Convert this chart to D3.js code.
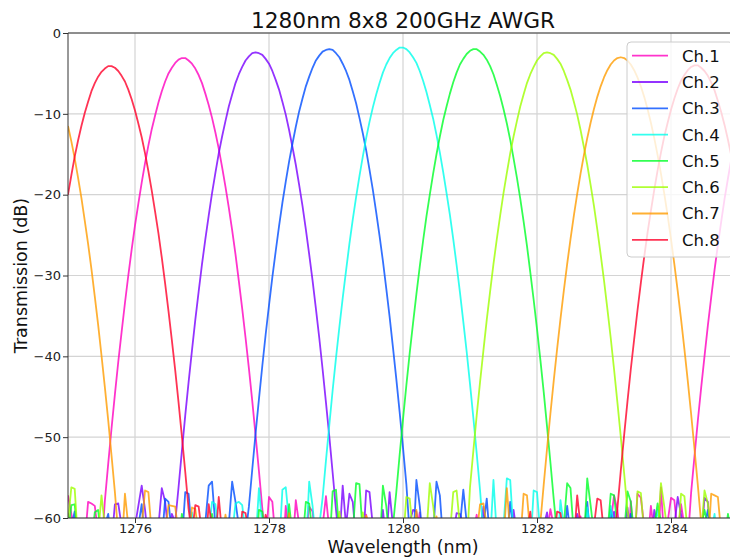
<!DOCTYPE html>
<html>
<head>
<meta charset="utf-8">
<script src="https://cdn.jsdelivr.net/npm/d3@7"></script>
<style>
  body { margin: 0; background: #fff; }
  svg { display: block; font-family: "DejaVu Sans", sans-serif; }
</style>
</head>
<body>
<svg id="chart" width="730" height="559"></svg>
<script>
// Measured transmission (dB) of the 8 output ports, sampled every 0.05 nm from 1275.00 nm.
const wavelengthStart = 1275.0;
const wavelengthStep = 0.05;

const ch1 = [
  -57.2, -59.5, -62, -65, -61, -63, -58.0, -58.2, -58.5, -62,
  -64, -57.9, -53.3, -48.9, -44.7, -40.7, -37.0, -33.4, -30.0, -26.8,
  -23.8, -21.1, -18.5, -16.1, -13.9, -11.9, -10.2, -8.6, -7.2, -6.0,
  -5.0, -4.3, -3.7, -3.3, -3.1, -3.1, -3.4, -3.8, -4.4, -5.2,
  -6.2, -7.5, -8.9, -10.5, -12.3, -14.3, -16.6, -19.0, -21.6, -24.4,
  -27.4, -30.7, -34.1, -37.7, -41.5, -45.5, -49.8, -54.2, -58.8, -63,
  -57.4, -58.0, -63, -61, -66, -58.5, -62, -64, -57.8, -60.8,
  -65, -62, -58.6, -59.2, -63, -68, -61, -57.3, -61.5, -62,
  -60.5, -66, -63, -61, -62.4, -62, -65, -61, -63, -59.6,
  -62, -64, -61.5, -61, -63, -63, -65, -60.5, -62, -64,
  -61.9, -63, -61, -66, -62, -59.3, -64, -62, -67, -63,
  -60.6, -65, -62, -61.7, -61, -64, -62.1, -66, -60.7, -62,
  -65, -61.7, -59.6, -63, -67, -62, -64, -61.4, -63, -66,
  -61, -64, -62.0, -65, -60.4, -63, -61, -66, -61.9, -64,
  -63, -60.8, -65, -62, -58.9, -61, -64, -61.5, -67, -62,
  -65, -61, -63, -59.8, -62, -61.1, -64, -61, -63, -65,
  -62, -64, -60.6, -57.2, -59.0, -63, -61, -66, -57.9, -64,
  -57.0, -57.5, -61, -63, -58.5, -62, -65, -56.2, -63, -60.5,
  -57.5, -57.8, -62, -58.3, -61, -63, -56.9, -52.4, -48.0, -43.9,
  -40.0, -36.2, -32.7, -29.3, -26.2, -23.3, -20.5, -18.0, -15.6, -13.5,
  -11.6
];

const ch2 = [
  -59.4, -62, -65, -61, -63, -66, -62, -60.5, -64, -63,
  -61, -65, -62, -63, -58.3, -58.2, -61, -64, -62, -66,
  -61, -58.5, -56.0, -59.0, -63, -62, -65, -61, -56.3, -58.0,
  -62, -59.5, -60.5, -56.2, -51.7, -47.3, -43.2, -39.3, -35.5, -32.0,
  -28.6, -25.5, -22.6, -19.8, -17.3, -14.9, -12.8, -10.9, -9.1, -7.6,
  -6.2, -5.1, -4.2, -3.4, -2.9, -2.5, -2.4, -2.5, -2.7, -3.2,
  -3.8, -4.7, -5.8, -7.0, -8.5, -10.1, -12.0, -14.1, -16.3, -18.8,
  -21.4, -24.3, -27.4, -30.6, -34.1, -37.7, -41.6, -45.7, -49.9, -54.4,
  -59.0, -63, -56.0, -61, -57.0, -58.0, -63, -61, -64, -56.6,
  -56.8, -61, -65, -62, -59.0, -63, -56.8, -61, -64, -66,
  -62, -63, -60.5, -59.0, -59.2, -62, -65, -61, -63, -66,
  -62, -64, -61, -63, -67, -62, -59.4, -59.5, -60.8, -64,
  -63, -61, -65, -62, -58.6, -64, -61, -66, -63, -62,
  -65, -61, -63, -59.0, -62, -66, -64, -61, -63, -65,
  -62, -64, -61, -59.3, -63, -66, -62, -64, -61, -63,
  -65, -62, -59.5, -61, -64, -63, -66, -62, -64, -61,
  -63, -65, -62, -59.2, -64, -61, -63, -58.7, -62, -65,
  -61, -63, -66, -62, -64, -59.0, -61, -63, -65, -62,
  -64, -61, -57.4, -59.6, -63, -62, -65, -61, -64, -63,
  -57.5, -58.0, -64, -66, -61, -63, -65, -62, -62, -58.5,
  -57.0
];

const ch3 = [
  -63, -61, -59.2, -64, -62, -66, -61, -63, -65, -62,
  -64, -61, -59.5, -63, -66, -62, -64, -61, -63, -65,
  -62, -61, -58.3, -63, -65, -62, -64, -61, -63, -57.6,
  -58.0, -62, -64, -61, -63, -56.8, -57.0, -62, -65, -61,
  -63, -60.5, -56.0, -55.5, -61, -64, -62, -63, -60.8, -55.5,
  -58.0, -61, -63, -62, -58.6, -54.0, -49.5, -45.3, -41.2, -37.3,
  -33.7, -30.2, -27.0, -23.9, -21.0, -18.4, -15.9, -13.7, -11.6, -9.7,
  -8.1, -6.6, -5.4, -4.3, -3.4, -2.8, -2.3, -2.1, -2.0, -2.1,
  -2.5, -3.0, -3.8, -4.7, -5.8, -7.2, -8.7, -10.5, -12.4, -14.5,
  -16.9, -19.4, -22.2, -25.1, -28.2, -31.6, -35.1, -38.9, -42.8, -46.9,
  -51.3, -55.8, -62, -64, -55.3, -58.5, -63, -61, -64, -62,
  -55.5, -57.2, -63, -61, -65, -62, -64, -61, -56.5, -60.5,
  -63, -64, -62, -65, -61, -57.6, -63, -66, -62, -64,
  -61, -63, -58.0, -62, -65, -61, -64, -62, -63, -66,
  -62, -64, -61, -63, -65, -62, -64, -61, -63, -58.5,
  -62, -64, -61, -63, -62, -58.0, -63, -61, -64, -62,
  -63, -65, -59.0, -61, -64, -62, -66, -63, -59.5, -62,
  -64, -61, -63, -65, -62, -64, -61, -63, -66, -62,
  -64, -61, -63, -62, -65, -61, -63, -64, -62, -66,
  -61, -59.0, -63, -62, -64, -61, -65, -63, -62, -64,
  -61
];

const ch4 = [
  -59.8, -63, -61, -64, -62, -60.5, -65, -62, -63, -61,
  -64, -62, -66, -61, -63, -62, -64, -61, -63, -65,
  -62, -64, -61, -63, -62, -65, -61, -63, -64, -62,
  -61, -63, -65, -62, -64, -61, -63, -59.3, -62, -64,
  -61, -63, -62, -58.0, -58.3, -62, -64, -61, -63, -62,
  -58.2, -58.0, -58.4, -62, -64, -61, -63, -56.3, -61, -64,
  -62, -63, -61, -64, -56.5, -56.2, -60.5, -63, -64, -61,
  -62, -64, -55.5, -58.5, -63, -61, -57.5, -52.9, -48.5, -44.2,
  -40.2, -36.4, -32.8, -29.4, -26.1, -23.1, -20.3, -17.7, -15.3, -13.0,
  -11.0, -9.2, -7.6, -6.2, -4.9, -3.9, -3.1, -2.5, -2.1, -1.8,
  -1.8, -2.0, -2.4, -3.0, -3.7, -4.7, -5.9, -7.3, -8.9, -10.6,
  -12.6, -14.8, -17.2, -19.8, -22.5, -25.5, -28.7, -32.1, -35.7, -39.4,
  -43.4, -47.6, -52.0, -56.6, -62, -61, -63, -55.3, -62, -64,
  -61, -55.1, -55.3, -62, -64, -61, -63, -62, -64, -56.6,
  -56.8, -62, -64, -61, -63, -62, -65, -57.8, -61, -63,
  -64, -62, -61, -63, -65, -58.7, -62, -64, -61, -63,
  -62, -64, -58.5, -61, -63, -65, -62, -64, -61, -63,
  -65, -62, -64, -61, -63, -62, -59.0, -61, -64, -62,
  -63, -61, -65, -62, -64, -61, -63, -62, -64, -61,
  -63, -65, -62, -59.5, -64, -61, -63, -62, -64, -61,
  -63
];

const ch5 = [
  -62, -58.4, -58.3, -63, -61, -64, -62, -63, -59.3, -59.0,
  -63, -61, -64, -62, -66, -61, -63, -62, -64, -61,
  -63, -65, -62, -64, -61, -63, -62, -64, -61, -63,
  -62, -64, -61, -63, -59.5, -62, -64, -61, -63, -62,
  -64, -61, -63, -59.5, -62, -65, -61, -63, -64, -62,
  -61, -63, -62, -64, -61, -63, -65, -59.0, -59.2, -63,
  -61, -64, -62, -63, -61, -64, -58.3, -62, -64, -61,
  -63, -58.0, -58.2, -62, -64, -61, -63, -62, -64, -56.7,
  -56.5, -62, -64, -61, -63, -62, -55.7, -55.8, -62, -64,
  -61, -63, -62, -64, -56.0, -58.5, -63, -61, -56.8, -52.2,
  -47.8, -43.6, -39.6, -35.9, -32.3, -28.9, -25.7, -22.7, -20.0, -17.4,
  -15.0, -12.8, -10.8, -9.1, -7.5, -6.1, -4.9, -3.9, -3.2, -2.6,
  -2.2, -2.0, -2.0, -2.3, -2.7, -3.3, -4.1, -5.1, -6.4, -7.8,
  -9.4, -11.2, -13.2, -15.5, -17.9, -20.5, -23.3, -26.3, -29.6, -33.0,
  -36.6, -40.4, -44.4, -48.7, -53.1, -57.7, -62, -64, -61, -55.7,
  -56.3, -62, -64, -61, -63, -55.1, -58.4, -62, -64, -61,
  -63, -62, -57.0, -57.2, -61, -64, -62, -56.7, -58.0, -62,
  -64, -61, -63, -62, -65, -61, -58.2, -60.5, -64, -62,
  -61, -63, -64, -62, -61, -63, -65, -62, -64, -61,
  -59.0, -61, -63, -62, -64, -61, -63, -59.5, -62, -64,
  -61
];

const ch6 = [
  -60.5, -56.2, -56.4, -63, -61, -64, -62, -63, -61, -62,
  -57.2, -61, -64, -62, -63, -61, -64, -62, -66, -61,
  -63, -62, -64, -61, -63, -65, -62, -64, -61, -63,
  -62, -64, -61, -63, -62, -65, -61, -63, -64, -62,
  -61, -63, -65, -62, -64, -61, -63, -62, -64, -61,
  -63, -65, -62, -64, -61, -63, -62, -64, -61, -63,
  -62, -64, -61, -63, -65, -62, -64, -61, -63, -62,
  -64, -61, -63, -62, -65, -61, -63, -64, -62, -61,
  -63, -59.2, -62, -64, -61, -63, -62, -64, -59.3, -62,
  -64, -61, -63, -62, -64, -61, -63, -62, -64, -61,
  -63, -57.4, -57.6, -62, -64, -61, -63, -62, -55.7, -58.5,
  -62, -64, -61, -63, -62, -56.8, -56.6, -61, -63, -64,
  -56.2, -51.7, -47.3, -43.2, -39.3, -35.5, -32.0, -28.6, -25.5, -22.6,
  -19.8, -17.3, -14.9, -12.8, -10.9, -9.1, -7.6, -6.2, -5.1, -4.2,
  -3.4, -2.9, -2.5, -2.4, -2.5, -2.7, -3.2, -3.8, -4.7, -5.8,
  -7.0, -8.5, -10.1, -12.0, -14.1, -16.3, -18.8, -21.4, -24.3, -27.4,
  -30.6, -34.1, -37.7, -41.6, -45.7, -49.9, -54.4, -59.0, -62, -64,
  -56.7, -56.9, -62, -64, -61, -63, -62, -55.7, -58.6, -62,
  -64, -61, -63, -57.0, -57.3, -62, -64, -61, -63, -62,
  -56.6, -58.2, -62, -64, -61, -63, -62, -64, -61, -63,
  -62
];

const ch7 = [
  -11.5, -13.4, -15.5, -17.9, -20.4, -23.2, -26.1, -29.2, -32.6, -36.1,
  -39.9, -43.8, -47.9, -52.3, -56.8, -62, -64, -57.0, -61, -63,
  -62, -64, -61, -56.6, -56.8, -62, -64, -61, -63, -62,
  -58.4, -58.5, -58.6, -62, -64, -61, -63, -58.7, -58.9, -62,
  -64, -61, -63, -62, -64, -61, -63, -59.6, -62, -64,
  -61, -63, -62, -64, -61, -63, -65, -62, -64, -61,
  -63, -62, -64, -61, -63, -65, -59.4, -64, -61, -63,
  -62, -64, -61, -63, -65, -62, -64, -61, -63, -62,
  -64, -61, -63, -62, -64, -61, -63, -65, -62, -59.7,
  -61, -63, -62, -64, -61, -63, -62, -64, -61, -63,
  -62, -64, -61, -63, -59.0, -64, -61, -63, -65, -62,
  -59.8, -63, -61, -64, -62, -63, -61, -64, -62, -63,
  -61, -64, -62, -58.3, -58.2, -61, -63, -62, -64, -61,
  -63, -56.3, -62, -64, -61, -63, -57.0, -57.2, -62, -64,
  -61, -60.6, -55.9, -51.4, -47.1, -43.0, -39.1, -35.4, -31.9, -28.6,
  -25.5, -22.6, -19.9, -17.4, -15.1, -13.0, -11.1, -9.4, -7.9, -6.6,
  -5.5, -4.6, -3.9, -3.4, -3.1, -3.0, -3.1, -3.4, -3.9, -4.6,
  -5.5, -6.6, -7.9, -9.4, -11.1, -13.0, -15.1, -17.4, -19.9, -22.6,
  -25.5, -28.6, -31.9, -35.4, -39.1, -43.0, -47.1, -51.4, -55.9, -60.6,
  -62, -64, -57.0, -57.2, -57.4, -62, -64, -61, -63, -62,
  -64
];

const ch8 = [
  -20.0, -17.6, -15.3, -13.3, -11.5, -9.9, -8.5, -7.2, -6.2, -5.4,
  -4.8, -4.4, -4.1, -4.1, -4.3, -4.7, -5.3, -6.0, -7.0, -8.2,
  -9.6, -11.2, -12.9, -14.9, -17.1, -19.5, -22.1, -24.8, -27.8, -31.0,
  -34.4, -38.0, -41.7, -45.7, -49.9, -54.3, -58.9, -62, -58.4, -58.6,
  -62, -64, -58.3, -61, -63, -57.4, -62, -64, -61, -63,
  -62, -64, -59.2, -59.4, -62, -64, -61, -63, -62, -59.6,
  -61, -64, -62, -63, -61, -64, -62, -63, -65, -61,
  -63, -62, -64, -61, -63, -62, -64, -61, -63, -65,
  -62, -64, -61, -63, -62, -64, -61, -63, -62, -64,
  -61, -63, -65, -62, -64, -61, -63, -62, -64, -61,
  -63, -62, -64, -61, -63, -65, -62, -64, -61, -63,
  -62, -64, -61, -63, -62, -64, -61, -63, -65, -62,
  -64, -61, -63, -62, -64, -61, -63, -62, -64, -61,
  -63, -65, -62, -64, -61, -63, -62, -62, -59.2, -64,
  -61, -63, -62, -64, -61, -63, -59.2, -59.4, -62, -64,
  -61, -63, -57.2, -61, -64, -62, -63, -61, -57.6, -57.8,
  -62, -64, -61, -63, -58.8, -54.2, -49.8, -45.6, -41.6, -37.9,
  -34.3, -30.9, -27.7, -24.7, -22.0, -19.4, -17.0, -14.8, -12.8, -11.1,
  -9.5, -8.1, -6.9, -5.9, -5.2, -4.6, -4.2, -4.0, -4.0, -4.3,
  -4.7, -5.3, -6.1, -7.1, -8.4, -9.8, -11.4, -13.2, -15.2, -17.5,
  -19.9
];

const channelNames = ["Ch.1", "Ch.2", "Ch.3", "Ch.4", "Ch.5", "Ch.6", "Ch.7", "Ch.8"];
const channelSeries = [ch1, ch2, ch3, ch4, ch5, ch6, ch7, ch8];
const channelColors = ["#ff00bf", "#7900ff", "#004dff", "#00ffeb", "#00ff27", "#9eff00", "#ff9c00", "#ff0029"];

const xTicks = [1276, 1278, 1280, 1282, 1284];
const yTicks = [0, -10, -20, -30, -40, -50, -60];
const xDomain = [1275, 1285];
const yDomain = [-60, 0];

const titleText = "1280nm 8x8 200GHz AWGR";
const xLabelText = "Wavelength (nm)";
const yLabelText = "Transmission (dB)";

// ---- layout ----
const svg = d3.select("#chart");
const plot = { left: 68, top: 33, right: 738, bottom: 518 };

const x = d3.scaleLinear().domain(xDomain).range([plot.left, plot.right]);
const y = d3.scaleLinear().domain(yDomain).range([plot.bottom, plot.top]);

svg.append("defs").append("clipPath").attr("id", "plot-clip")
  .append("rect")
  .attr("x", plot.left).attr("y", plot.top)
  .attr("width", plot.right - plot.left).attr("height", plot.bottom - plot.top);

// grid
const grid = svg.append("g").attr("class", "grid");
grid.selectAll("line.vx").data(xTicks).join("line")
  .attr("x1", d => x(d)).attr("x2", d => x(d))
  .attr("y1", plot.top).attr("y2", plot.bottom)
  .attr("stroke", "#d4d4d4").attr("stroke-width", 1.2);
grid.selectAll("line.hy").data(yTicks).join("line")
  .attr("x1", plot.left).attr("x2", plot.right)
  .attr("y1", d => y(d)).attr("y2", d => y(d))
  .attr("stroke", "#d4d4d4").attr("stroke-width", 1.2);

// channel curves
const rows = channelSeries.map(series =>
  series.map((v, i) => ({ wl: wavelengthStart + i * wavelengthStep, db: v }))
);
const line = d3.line().x(d => x(d.wl)).y(d => y(d.db));

svg.append("g").attr("clip-path", "url(#plot-clip)")
  .selectAll("path").data(rows).join("path")
  .attr("d", line)
  .attr("fill", "none")
  .attr("stroke", (d, i) => channelColors[i])
  .attr("stroke-opacity", 0.8)
  .attr("stroke-width", 1.8)
  .attr("stroke-linejoin", "round");

// spines
const spine = svg.append("g").attr("stroke", "#333").attr("stroke-width", 1).attr("fill", "none");
spine.append("line").attr("x1", plot.left).attr("x2", plot.left).attr("y1", plot.top).attr("y2", plot.bottom);
spine.append("line").attr("x1", plot.left).attr("x2", plot.right).attr("y1", plot.top).attr("y2", plot.top);
spine.append("line").attr("x1", plot.left).attr("x2", plot.right).attr("y1", plot.bottom).attr("y2", plot.bottom);

// axes
const xAxis = svg.append("g").attr("transform", `translate(0,${plot.bottom})`)
  .call(d3.axisBottom(x).tickValues(xTicks).tickFormat(d3.format("d")).tickSize(5).tickPadding(1));
const yAxis = svg.append("g").attr("transform", `translate(${plot.left},0)`)
  .call(d3.axisLeft(y).tickValues(yTicks).tickFormat(d3.format("d")).tickSize(5).tickPadding(2));
[xAxis, yAxis].forEach(g => {
  g.select(".domain").remove();
  g.selectAll(".tick line").attr("stroke", "#333");
  g.selectAll(".tick text")
    .attr("fill", "#222")
    .style("font-family", "DejaVu Sans, sans-serif")
    .style("font-size", "13px");
});

// titles
svg.append("text")
  .attr("x", (plot.left + plot.right) / 2).attr("y", 28)
  .attr("text-anchor", "middle")
  .style("font-size", "21.7px").attr("fill", "#111")
  .text(titleText);

svg.append("text")
  .attr("x", (plot.left + plot.right) / 2).attr("y", 553)
  .attr("text-anchor", "middle")
  .style("font-size", "17.5px").attr("fill", "#111")
  .text(xLabelText);

svg.append("text")
  .attr("transform", `translate(27,${(plot.top + plot.bottom) / 2}) rotate(-90)`)
  .attr("text-anchor", "middle")
  .style("font-size", "17.5px").attr("fill", "#111")
  .text(yLabelText);

// legend
const legend = svg.append("g").attr("class", "legend");
legend.append("rect")
  .attr("x", 627).attr("y", 42).attr("width", 106).attr("height", 215)
  .attr("rx", 4).attr("ry", 4)
  .attr("fill", "#fff").attr("fill-opacity", 0.8)
  .attr("stroke", "#cccccc").attr("stroke-width", 1);

const entries = legend.selectAll("g.entry").data(channelNames).join("g")
  .attr("class", "entry")
  .attr("transform", (d, i) => `translate(0,${55.7 + i * 26.3})`);
entries.append("line")
  .attr("x1", 632).attr("x2", 668).attr("y1", 0).attr("y2", 0)
  .attr("stroke", (d, i) => channelColors[i])
  .attr("stroke-opacity", 0.8)
  .attr("stroke-width", 1.8);
entries.append("text")
  .attr("x", 682).attr("y", 0).attr("dy", "0.36em")
  .style("font-size", "16.5px").attr("fill", "#111")
  .text(d => d);
</script>
</body>
</html>
